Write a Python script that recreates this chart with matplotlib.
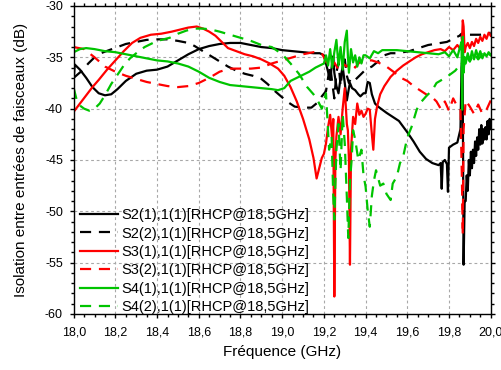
import numpy as np
import matplotlib
matplotlib.use("Agg")
import matplotlib.pyplot as plt
from matplotlib.ticker import MultipleLocator, FuncFormatter

plt.rcParams['font.family'] = ['Liberation Sans', 'DejaVu Sans']

# S2(1),1(1) - noir continu
s21_f = [18.00, 18.005, 18.03, 18.06, 18.09, 18.12, 18.15, 18.18, 18.21, 18.25,
         18.30, 18.35, 18.40, 18.45, 18.50, 18.55, 18.60, 18.65, 18.70, 18.75,
         18.80, 18.85, 18.90, 18.95, 19.00, 19.05, 19.10, 19.15, 19.18, 19.20,
         19.21, 19.22, 19.23, 19.24, 19.245, 19.25, 19.26, 19.27, 19.28, 19.29,
         19.30, 19.31, 19.32, 19.325, 19.335, 19.35, 19.365, 19.375, 19.39, 19.40,
         19.41, 19.42, 19.43, 19.445, 19.46, 19.48, 19.50, 19.53, 19.56, 19.60,
         19.63, 19.66, 19.69, 19.72, 19.75, 19.76, 19.765, 19.77, 19.78, 19.79,
         19.795, 19.80, 19.82, 19.84, 19.855, 19.86, 19.865, 19.87, 19.875, 19.88,
         19.885, 19.89, 19.895, 19.90, 19.905, 19.91, 19.915, 19.92, 19.925, 19.93,
         19.935, 19.94, 19.945, 19.95, 19.955, 19.96, 19.965, 19.97, 19.975, 19.98,
         19.985, 19.99, 19.995, 20.00]
s21_db = [-37.2, -35.7, -36.2, -37.0, -37.9, -38.5, -38.7, -38.6, -38.1, -37.3,
          -36.6, -36.3, -36.2, -35.9, -35.3, -34.7, -34.2, -33.9, -33.7, -33.6,
          -33.6, -33.8, -34.0, -34.1, -34.3, -34.4, -34.5, -34.6, -34.6, -34.8,
          -35.6, -36.4, -37.2, -35.5, -34.9, -36.5, -37.8, -38.5, -37.0, -35.9,
          -37.5, -39.2, -38.0, -37.5, -38.0, -38.2, -38.6, -38.8, -38.5, -38.5,
          -37.4, -37.5, -38.6, -39.5, -39.8, -40.1, -40.4, -40.8, -41.2, -42.3,
          -43.2, -44.2, -44.9, -45.3, -45.5, -45.3, -47.8, -45.2, -45.0, -45.4,
          -48.1, -43.8, -43.5, -43.3, -42.0, -36.0, -34.5, -55.2, -49.0, -49.0,
          -46.5, -48.0, -45.0, -46.5, -44.2, -45.8, -44.0, -45.3, -43.2, -44.6,
          -42.8, -44.0, -42.0, -43.5, -41.6, -43.4, -42.0, -43.0, -41.8, -43.0,
          -41.2, -42.5, -41.0, -42.0]

# S2(2),1(1) - noir pointille
s22_f = [18.00, 18.04, 18.07, 18.10, 18.13, 18.17, 18.21, 18.25, 18.30, 18.35,
         18.40, 18.45, 18.50, 18.55, 18.58, 18.62, 18.66, 18.70, 18.74, 18.78,
         18.82, 18.86, 18.90, 18.93, 18.96, 19.00, 19.03, 19.06, 19.10, 19.14,
         19.17, 19.19, 19.21, 19.22, 19.23, 19.24, 19.25, 19.26, 19.27, 19.28,
         19.29, 19.30, 19.31, 19.32, 19.33, 19.35, 19.37, 19.40, 19.43, 19.46,
         19.49, 19.52, 19.55, 19.58, 19.61, 19.64, 19.67, 19.70, 19.73, 19.76,
         19.79, 19.81, 19.83, 19.85, 19.86, 19.865, 19.87, 19.875, 19.89, 19.92,
         19.95, 19.98, 20.00]
s22_db = [-37.0, -36.3, -35.6, -35.0, -34.6, -34.3, -34.0, -33.7, -33.5, -33.3,
          -33.25, -33.25, -33.4, -33.6, -33.9, -34.4, -34.9, -35.4, -35.9, -36.3,
          -36.6, -36.8, -37.1, -37.6, -38.2, -38.9, -39.4, -39.8, -39.9, -39.9,
          -39.4, -38.8, -38.3, -37.0, -35.8, -37.5, -39.0, -36.5, -35.5, -37.8,
          -36.0, -35.2, -36.8, -37.5, -37.0, -37.2, -36.8, -36.2, -35.9, -35.4,
          -34.8, -34.6, -34.6, -34.5, -34.4, -34.2, -34.0, -33.8, -33.7, -33.6,
          -33.5, -33.3, -33.1, -32.9, -32.7, -34.0, -33.0, -32.7, -32.8, -32.8,
          -32.8, -32.7, -32.6]

# S3(1),1(1) - rouge continu
s31_f = [18.00, 18.03, 18.06, 18.09, 18.12, 18.16, 18.20, 18.24, 18.28, 18.32,
         18.37, 18.42, 18.47, 18.51, 18.55, 18.59, 18.62, 18.65, 18.68, 18.71,
         18.74, 18.78, 18.82, 18.86, 18.90, 18.94, 18.98, 19.01, 19.04, 19.07,
         19.10, 19.13, 19.15, 19.165, 19.175, 19.19, 19.20, 19.21, 19.22, 19.23,
         19.24, 19.245, 19.25, 19.255, 19.26, 19.27, 19.28, 19.29, 19.30, 19.31,
         19.315, 19.32, 19.325, 19.33, 19.34, 19.35, 19.36, 19.37, 19.38, 19.39,
         19.40, 19.41, 19.42, 19.43, 19.437, 19.445, 19.455, 19.47, 19.49, 19.52,
         19.55, 19.58, 19.61, 19.64, 19.67, 19.70, 19.73, 19.76, 19.78, 19.80,
         19.82, 19.84, 19.855, 19.862, 19.866, 19.87, 19.875, 19.88, 19.89, 19.90,
         19.91, 19.92, 19.93, 19.94, 19.95, 19.96, 19.97, 19.98, 19.99, 20.00]
s31_db = [-40.3, -39.5, -38.7, -37.9, -37.2, -36.2, -35.3, -34.4, -33.6, -33.1,
          -32.8, -32.7, -32.5, -32.3, -32.1, -32.0, -32.2, -32.5, -32.9, -33.5,
          -34.1, -34.4, -34.7, -34.9, -35.2, -35.6, -36.1, -36.8, -37.9, -39.3,
          -41.0, -43.0, -44.8, -46.8, -46.0, -44.8, -44.4, -43.4, -41.8, -40.6,
          -43.0, -41.0, -58.3, -45.0, -42.7, -40.8, -42.5, -40.0, -38.0, -41.5,
          -42.1, -45.0, -55.2, -44.0, -40.8, -41.5, -39.5, -40.6, -40.2, -40.8,
          -40.5, -40.0, -40.1, -42.5, -44.0, -41.0, -39.8, -38.6, -37.8, -36.9,
          -36.3, -35.8, -35.4, -35.0, -34.7, -34.5, -34.3, -34.2, -34.4, -34.0,
          -34.3, -33.8, -34.2, -33.5, -31.4, -32.0, -34.5, -34.0, -33.6, -34.1,
          -33.5, -33.9, -33.2, -33.6, -33.0, -33.4, -32.8, -33.2, -32.6, -32.9]

# S3(2),1(1) - rouge pointille
s32_f = [18.00, 18.05, 18.10, 18.15, 18.20, 18.25, 18.30, 18.35, 18.40, 18.45,
         18.50, 18.55, 18.60, 18.65, 18.70, 18.75, 18.80, 18.85, 18.90, 18.95,
         19.00, 19.05, 19.10, 19.15, 19.19, 19.21, 19.23, 19.25, 19.27, 19.29,
         19.31, 19.33, 19.35, 19.37, 19.40, 19.43, 19.46, 19.50, 19.54, 19.57,
         19.60, 19.63, 19.66, 19.69, 19.72, 19.74, 19.76, 19.78, 19.80, 19.82,
         19.84, 19.855, 19.862, 19.866, 19.87, 19.88, 19.90, 19.92, 19.94, 19.96,
         19.98, 20.00]
s32_db = [-34.0, -34.2, -35.0, -35.9, -36.4, -36.8, -37.1, -37.4, -37.6, -37.8,
          -37.9, -37.8, -37.5, -37.0, -36.4, -36.1, -36.1, -36.1, -36.0, -35.6,
          -35.3, -35.0, -34.7, -34.5, -34.6, -35.4, -36.0, -35.5, -36.2, -35.6,
          -35.9, -35.4, -36.0, -35.5, -35.3, -35.3, -35.5, -35.9, -36.5, -37.0,
          -37.3, -37.8, -38.2, -38.6, -38.9, -39.3, -40.0, -39.3, -40.2, -39.0,
          -39.8, -40.0, -47.0, -52.3, -42.0, -39.2, -39.8, -40.5, -39.6, -40.5,
          -40.1, -39.2]

# S4(1),1(1) - vert continu
s41_f = [18.00, 18.03, 18.06, 18.10, 18.15, 18.20, 18.25, 18.30, 18.35, 18.40,
         18.45, 18.50, 18.55, 18.60, 18.65, 18.70, 18.75, 18.80, 18.85, 18.90,
         18.95, 18.98, 19.01, 19.04, 19.07, 19.10, 19.13, 19.16, 19.19, 19.20,
         19.21, 19.22, 19.23, 19.24, 19.25, 19.26, 19.27, 19.28, 19.29, 19.30,
         19.31, 19.315, 19.32, 19.33, 19.34, 19.35, 19.36, 19.37, 19.38, 19.39,
         19.40, 19.42, 19.44, 19.46, 19.48, 19.50, 19.55, 19.60, 19.65, 19.70,
         19.75, 19.78, 19.80, 19.82, 19.84, 19.85, 19.86, 19.863, 19.866, 19.87,
         19.875, 19.88, 19.89, 19.90, 19.91, 19.92, 19.93, 19.94, 19.95, 19.96,
         19.97, 19.98, 19.99, 20.00]
s41_db = [-34.5, -34.2, -34.1, -34.2, -34.4, -34.5, -34.7, -34.9, -35.1, -35.3,
          -35.4, -35.6, -35.9, -36.4, -37.0, -37.4, -37.7, -37.8, -37.9, -38.0,
          -38.1, -38.2, -38.0, -37.3, -37.0, -36.7, -36.4, -36.0, -35.7, -35.6,
          -34.8, -35.8, -34.2, -36.0, -34.5, -33.3, -35.8, -34.0, -36.2, -33.5,
          -32.4, -34.8, -36.5, -34.2, -35.5, -34.8, -35.9, -35.0, -35.6, -34.8,
          -34.8, -35.1, -34.4, -34.6, -34.3, -34.3, -34.3, -34.4, -34.5, -34.6,
          -34.7, -34.5, -34.9, -34.3, -35.0, -34.2, -33.5, -40.1, -33.0, -36.5,
          -35.0, -35.6, -34.6, -35.4, -34.4, -35.2, -34.3, -35.0, -34.4, -35.1,
          -34.6, -34.9, -34.5, -34.8]

# S4(2),1(1) - vert pointille
s42_f = [18.00, 18.015, 18.03, 18.05, 18.075, 18.10, 18.125, 18.15, 18.18, 18.21,
         18.24, 18.27, 18.30, 18.34, 18.38, 18.42, 18.46, 18.50, 18.54, 18.58,
         18.62, 18.66, 18.70, 18.75, 18.80, 18.85, 18.90, 18.95, 19.00, 19.04,
         19.08, 19.12, 19.15, 19.17, 19.19, 19.21, 19.225, 19.237, 19.245, 19.25,
         19.26, 19.27, 19.28, 19.29, 19.30, 19.31, 19.317, 19.325, 19.333, 19.34,
         19.35, 19.365, 19.38, 19.39, 19.40, 19.41, 19.42, 19.43, 19.44, 19.45,
         19.47, 19.485, 19.50, 19.52, 19.53, 19.55, 19.565, 19.58, 19.60, 19.62,
         19.645, 19.66, 19.69, 19.72, 19.74, 19.765, 19.79, 19.81, 19.83, 19.85,
         19.86, 19.87, 19.88, 19.90, 19.92, 19.94, 19.96, 19.98, 20.00]
s42_db = [-38.0, -39.2, -39.7, -40.0, -40.2, -40.0, -39.5, -38.7, -37.6, -36.7,
          -35.8, -35.1, -34.6, -34.0, -33.6, -33.3, -33.1, -32.7, -32.4, -32.2,
          -32.2, -32.3, -32.5, -32.8, -33.1, -33.4, -33.8, -34.0, -34.7, -35.6,
          -36.6, -37.9, -38.6, -39.2, -40.0, -38.5, -44.0, -42.7, -48.6, -50.8,
          -44.0, -41.5, -46.0, -40.5, -43.4, -48.6, -52.6, -47.0, -45.0, -42.1,
          -43.0, -45.0, -44.0, -46.5, -47.6, -49.9, -51.5, -48.5, -47.0, -46.0,
          -47.5, -47.3, -48.3, -48.9, -47.3, -46.6, -45.3, -44.7, -42.8, -41.8,
          -40.1, -39.5, -38.8, -38.2, -37.5, -37.2, -36.9, -36.6, -36.3, -35.8,
          -35.5, -36.0, -34.8, -35.4, -34.6, -35.2, -34.7, -35.0, -34.6]

labels = ["S2(1),1(1)[RHCP@18,5GHz]", "S2(2),1(1)[RHCP@18,5GHz]",
          "S3(1),1(1)[RHCP@18,5GHz]", "S3(2),1(1)[RHCP@18,5GHz]",
          "S4(1),1(1)[RHCP@18,5GHz]", "S4(2),1(1)[RHCP@18,5GHz]"]

green = '#00c400'
series = [
    (s21_f, s21_db, 'black', '-'),
    (s22_f, s22_db, 'black', '--'),
    (s31_f, s31_db, '#ff0000', '-'),
    (s32_f, s32_db, '#ff0000', '--'),
    (s41_f, s41_db, green, '-'),
    (s42_f, s42_db, green, '--'),
]

fig = plt.figure(figsize=(5.02, 3.70), dpi=100)
ax = fig.add_axes([0.1468, 0.1514, 0.8307, 0.8324])

for (f, db, c, ls), lab in zip(series, labels):
    line, = ax.plot(f, db, color=c, lw=1.6, label=lab)
    if ls == '--':
        line.set_dashes((5, 3.5))

ax.set_xlim(18.0, 20.0)
ax.set_ylim(-60, -30)
ax.xaxis.set_major_locator(MultipleLocator(0.2))
ax.xaxis.set_minor_locator(MultipleLocator(0.05))
ax.yaxis.set_major_locator(MultipleLocator(5))
ax.yaxis.set_minor_locator(MultipleLocator(1))
ax.xaxis.set_major_formatter(FuncFormatter(lambda v, p: f"{v:.1f}".replace('.', ',')))
ax.yaxis.set_major_formatter(FuncFormatter(lambda v, p: f"{v:.0f}"))

ax.grid(True, which='major', color='#a8a8a8', lw=0.8, linestyle=(0, (2.5, 2.5)))
ax.tick_params(which='both', direction='out', top=True, right=True,
               labelsize=9, width=1.0)
ax.tick_params(which='major', length=3.2)
ax.tick_params(which='minor', length=2.0)
ax.tick_params(axis='x', pad=5.5)
ax.tick_params(axis='y', pad=4.5)
for sp in ax.spines.values():
    sp.set_linewidth(1.0)

ax.set_xlabel("Fréquence (GHz)", fontsize=11, labelpad=5)
ax.set_ylabel("Isolation entre entrées de faisceaux (dB)", fontsize=11, labelpad=12)

leg = ax.legend(loc='lower left', bbox_to_anchor=(0.012, -0.005), frameon=False,
                fontsize=10.5, handlelength=2.6, handletextpad=0.2,
                labelspacing=0.3, borderpad=0.1, borderaxespad=0)

fig.savefig("out.png", dpi=100)
